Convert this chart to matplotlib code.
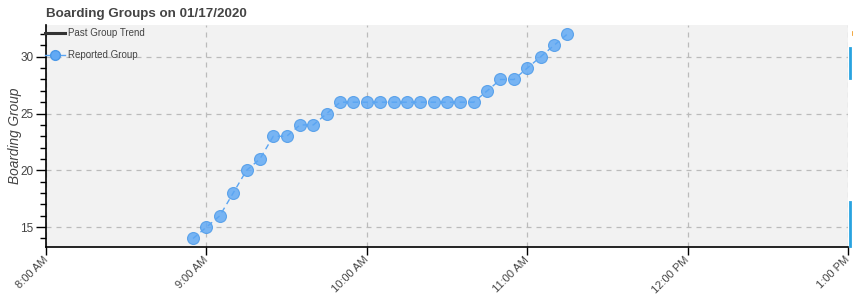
import datetime as dt
import matplotlib
matplotlib.use("Agg")
import matplotlib.pyplot as plt
import matplotlib.dates as mdates
from matplotlib.ticker import MultipleLocator, FuncFormatter
from matplotlib.lines import Line2D

plt.rcParams['font.family'] = ['Liberation Sans', 'DejaVu Sans']

# reported boarding groups, one every 5 minutes
report_times = ["8:55", "9:00", "9:05", "9:10", "9:15", "9:20", "9:25", "9:30",
                "9:35", "9:40", "9:45", "9:50", "9:55", "10:00", "10:05", "10:10",
                "10:15", "10:20", "10:25", "10:30", "10:35", "10:40", "10:45",
                "10:50", "10:55", "11:00", "11:05", "11:10", "11:15"]
groups = [14, 15, 16, 18, 20, 21, 23, 23, 24, 24, 25, 26, 26, 26, 26, 26,
          26, 26, 26, 26, 26, 26, 27, 28, 28, 29, 30, 31, 32]
day = dt.date(2020, 1, 17)
x_start, x_end = "8:00", "13:00"


def to_dt(s):
    h, m = s.split(":")
    return dt.datetime(day.year, day.month, day.day, int(h), int(m))


xs = [to_dt(t) for t in report_times]

fig = plt.figure(figsize=(8.54, 3.0), dpi=100)
ax = fig.add_axes([0.0539, 0.1767, 0.9391, 0.74])
ax.set_facecolor("#f2f2f2")

blue = "#5aa5f2"
ax.plot(xs, groups, color=blue, lw=1, ls=(0, (4, 3)), zorder=4)
ax.plot(xs, groups, ls="none", marker="o", ms=8.6, mfc="#62a9f4", mec="#4d9be9",
        mew=0.8, alpha=0.85, zorder=3)

ax.set_xlim(to_dt(x_start), to_dt(x_end))
ax.set_ylim(13.25, 32.8)

ax.xaxis.set_major_locator(mdates.HourLocator())


def fmt_time(v, pos):
    d = mdates.num2date(v)
    h = d.hour % 12 or 12
    return f"{h}:{d.minute:02d} {'AM' if d.hour < 12 else 'PM'}"


ax.xaxis.set_major_formatter(FuncFormatter(fmt_time))
ax.yaxis.set_major_locator(MultipleLocator(5))
ax.yaxis.set_minor_locator(MultipleLocator(1))

ax.grid(True, which="major", color="#bbbbbb", ls=(0, (4, 4)), lw=0.9)
ax.set_axisbelow(True)

for s in ["top", "right"]:
    ax.spines[s].set_visible(False)
ax.spines["left"].set_color("black")
ax.spines["bottom"].set_color("black")
ax.spines["left"].set_linewidth(1.2)
ax.spines["bottom"].set_linewidth(1.2)

ax.tick_params(axis="y", which="major", length=7, width=1, labelsize=8.5,
               labelcolor="#444444", pad=2)
ax.tick_params(axis="y", which="minor", length=4, width=1)
ax.tick_params(axis="x", which="major", length=6, width=1, labelsize=8,
               labelcolor="#444444", pad=2)
plt.setp(ax.get_xticklabels(), rotation=45, ha="right", va="center",
         rotation_mode="anchor")

ax.set_ylabel("Boarding Group", fontsize=9.8, style="italic", color="#444444",
              labelpad=-1)
ax.set_title("Boarding Groups on 01/17/2020", loc="left", fontsize=9.6,
             fontweight="bold", color="#444444", pad=6)

handles = [Line2D([], [], color="#333333", lw=2.2),
           Line2D([], [], color=blue, lw=1, marker="o", ms=7,
                  mfc="#62a9f4", mec="#4a98e8")]
ax.legend(handles, ["Past Group Trend", "Reported Group"], loc="upper left",
          bbox_to_anchor=(-0.008, 1.012), frameon=False, fontsize=7,
          labelcolor="#444444", handlelength=2.0, handletextpad=0.3,
          labelspacing=1.25, borderaxespad=0.2)

# clipped pieces of the neighbouring plot at the right edge
fig.add_artist(Line2D([0.9955, 0.9955], [1 - 48 / 300, 1 - 78 / 300],
                      transform=fig.transFigure, color="#29a3e0", lw=2))
fig.add_artist(Line2D([0.9955, 0.9955], [1 - 202 / 300, 1 - 246 / 300],
                      transform=fig.transFigure, color="#29a3e0", lw=2))
fig.add_artist(Line2D([0.999, 0.999], [1 - 32 / 300, 1 - 34 / 300],
                      transform=fig.transFigure, color="#f0a030", lw=2))

fig.savefig("out.png", dpi=100)
